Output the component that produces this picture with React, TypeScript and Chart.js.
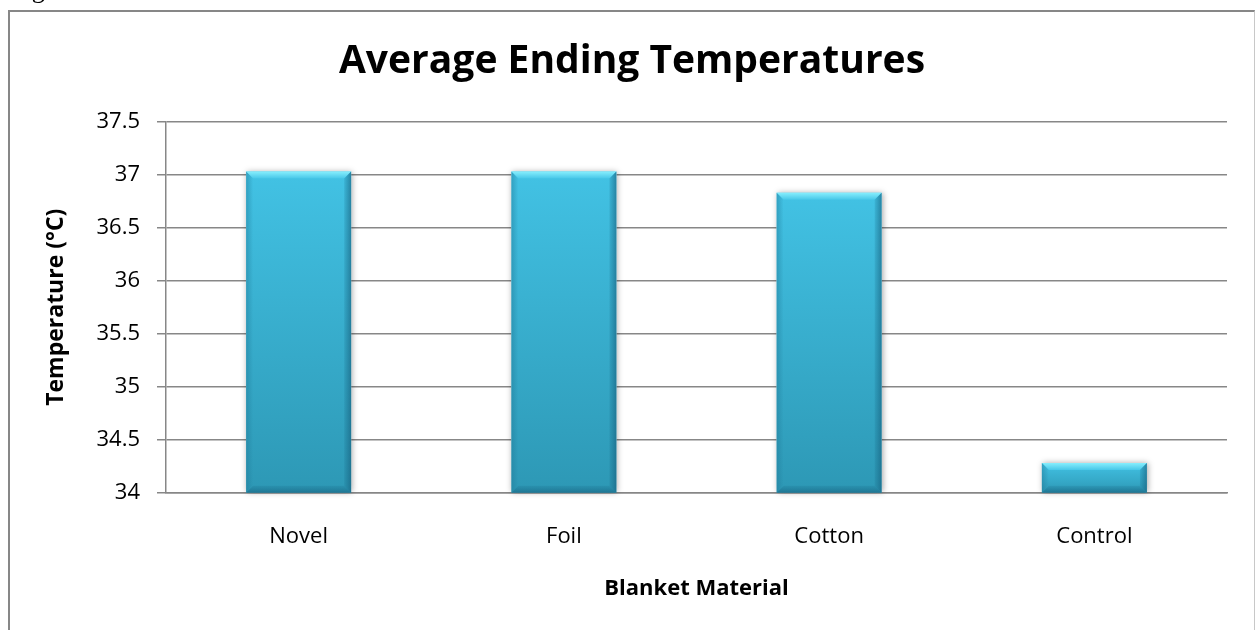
import React, { useEffect, useRef } from "react";
import { Chart, registerables } from "chart.js";

Chart.register(...registerables);

const categories = ["Novel", "Foil", "Cotton", "Control"];
const temperatures = [37.03, 37.03, 36.83, 34.28];
const yMin = 34;
const yMax = 37.5;
const yStep = 0.5;
const titleText = "Average Ending Temperatures";
const xTitleText = "Blanket Material";
const yTitleText = "Temperature (°C)";

const FONT = "'Open Sans', 'Noto Sans', sans-serif";
const GRID = "#878787";

function barBox(chart: any, el: any) {
  const { x, y, base, width } = el.getProps(["x", "y", "base", "width"], true);
  const bottom = Math.min(base, chart.chartArea.bottom);
  return { l: x - width / 2, r: x + width / 2, t: y, bt: bottom, w: width };
}

const bevelPlugin = {
  id: "bevel",
  beforeDatasetsDraw(chart: any) {
    const ctx = chart.ctx;
    const meta = chart.getDatasetMeta(0);
    ctx.save();
    meta.data.forEach((el: any) => {
      const { l, t, bt, w } = barBox(chart, el);
      ctx.shadowColor = "rgba(0,0,0,0.35)";
      ctx.shadowBlur = 6;
      ctx.shadowOffsetX = 1;
      ctx.shadowOffsetY = 0;
      ctx.fillStyle = "#ffffff";
      ctx.fillRect(l, t, w, bt - t - 1);
    });
    ctx.restore();
  },
  afterDatasetsDraw(chart: any) {
    const ctx = chart.ctx;
    const meta = chart.getDatasetMeta(0);
    ctx.save();
    meta.data.forEach((el: any) => {
      const { l, r, t, bt } = barBox(chart, el);
      const b = Math.min(7, (bt - t) / 2);
      let g = ctx.createLinearGradient(0, t, 0, t + b);
      g.addColorStop(0, "#86eefd");
      g.addColorStop(1, "#47c7e8");
      ctx.fillStyle = g;
      ctx.beginPath();
      ctx.moveTo(l, t);
      ctx.lineTo(r, t);
      ctx.lineTo(r - b, t + b);
      ctx.lineTo(l + b, t + b);
      ctx.closePath();
      ctx.fill();
      g = ctx.createLinearGradient(l, 0, l + b, 0);
      g.addColorStop(0, "rgba(30,120,150,0.45)");
      g.addColorStop(1, "rgba(30,120,150,0.0)");
      ctx.fillStyle = g;
      ctx.beginPath();
      ctx.moveTo(l, t);
      ctx.lineTo(l + b, t + b);
      ctx.lineTo(l + b, bt - b);
      ctx.lineTo(l, bt);
      ctx.closePath();
      ctx.fill();
      g = ctx.createLinearGradient(r - b, 0, r, 0);
      g.addColorStop(0, "rgba(20,100,130,0.15)");
      g.addColorStop(1, "rgba(20,90,120,0.6)");
      ctx.fillStyle = g;
      ctx.beginPath();
      ctx.moveTo(r, t);
      ctx.lineTo(r, bt);
      ctx.lineTo(r - b, bt - b);
      ctx.lineTo(r - b, t + b);
      ctx.closePath();
      ctx.fill();
      g = ctx.createLinearGradient(0, bt - b, 0, bt);
      g.addColorStop(0, "rgba(20,100,130,0.15)");
      g.addColorStop(1, "rgba(20,90,120,0.55)");
      ctx.fillStyle = g;
      ctx.beginPath();
      ctx.moveTo(l, bt);
      ctx.lineTo(r, bt);
      ctx.lineTo(r - b, bt - b);
      ctx.lineTo(l + b, bt - b);
      ctx.closePath();
      ctx.fill();
    });
    ctx.restore();
  },
};

export default function App() {
  const canvasRef = useRef<HTMLCanvasElement | null>(null);

  useEffect(() => {
    const canvas = canvasRef.current;
    if (!canvas) return;
    const chart = new Chart(canvas, {
      type: "bar",
      data: {
        labels: categories,
        datasets: [
          {
            data: temperatures,
            backgroundColor: (c: any) => {
              const ch = c.chart;
              const area = ch.chartArea;
              if (!area || c.raw === undefined) return "#3cbbdd";
              const yS = ch.scales.y;
              const top = yS.getPixelForValue(c.raw);
              const bot = yS.getPixelForValue(yMin);
              const g = ch.ctx.createLinearGradient(0, top, 0, Math.max(bot, top + 1));
              g.addColorStop(0, "#42c2e4");
              g.addColorStop(1, "#2d98b5");
              return g;
            },
            borderWidth: 0,
            categoryPercentage: 1,
            barPercentage: 0.396,
          },
        ],
      },
      options: {
        animation: false,
        responsive: false,
        maintainAspectRatio: false,
        layout: { padding: { left: 27, right: 27, top: 0, bottom: 0 } },
        plugins: {
          legend: { display: false },
          tooltip: { enabled: false },
          title: {
            display: true,
            text: titleText,
            color: "#000",
            font: { family: FONT, size: 39, weight: "bold" },
            padding: { top: 26, bottom: 37 },
          },
        },
        scales: {
          x: {
            grid: { drawOnChartArea: false, drawTicks: false },
            border: { display: true, color: GRID, width: 1.5 },
            ticks: { color: "#000", font: { family: FONT, size: 22 }, padding: 31 },
            title: {
              display: true,
              text: xTitleText,
              color: "#000",
              font: { family: FONT, size: 22, weight: "bold" },
              padding: { top: 0, bottom: 28 },
            },
            afterFit: (s: any) => {
              s.height = 137.3;
            },
          },
          y: {
            min: yMin,
            max: yMax,
            ticks: {
              stepSize: yStep,
              color: "#000",
              font: { family: FONT, size: 22 },
              padding: 17,
              callback: (v: any) => String(Number(v)),
            },
            grid: { color: GRID, lineWidth: 1.5, tickLength: 9, drawTicks: true },
            border: { display: true, color: GRID, width: 1.5 },
            title: {
              display: true,
              text: yTitleText,
              color: "#000",
              font: { family: FONT, size: 23, weight: "bold" },
              padding: { top: 6, bottom: 0 },
            },
            afterFit: (s: any) => {
              s.width = 129;
            },
          },
        },
      },
      plugins: [bevelPlugin],
    });
    return () => chart.destroy();
  }, []);

  return (
    <>
      <div
        style={{
          position: "fixed",
          left: 10,
          top: -23,
          fontFamily: "'Liberation Serif', 'Times New Roman', serif",
          fontSize: 26,
          lineHeight: "26px",
          color: "#000",
          whiteSpace: "nowrap",
        }}
      >
        Figure
      </div>
      <div
        style={{
          position: "fixed",
          left: 8,
          top: 10,
          width: 1247,
          height: 640,
          boxSizing: "border-box",
          borderTop: `2px solid ${GRID}`,
          borderLeft: `2px solid ${GRID}`,
          borderRight: "1px solid #c8c8c8",
          background: "#fff",
        }}
      >
        <canvas
          ref={canvasRef}
          width={1244}
          height={618}
          style={{ position: "absolute", left: 0, top: 0, width: 1244, height: 618 }}
        />
      </div>
    </>
  );
}
